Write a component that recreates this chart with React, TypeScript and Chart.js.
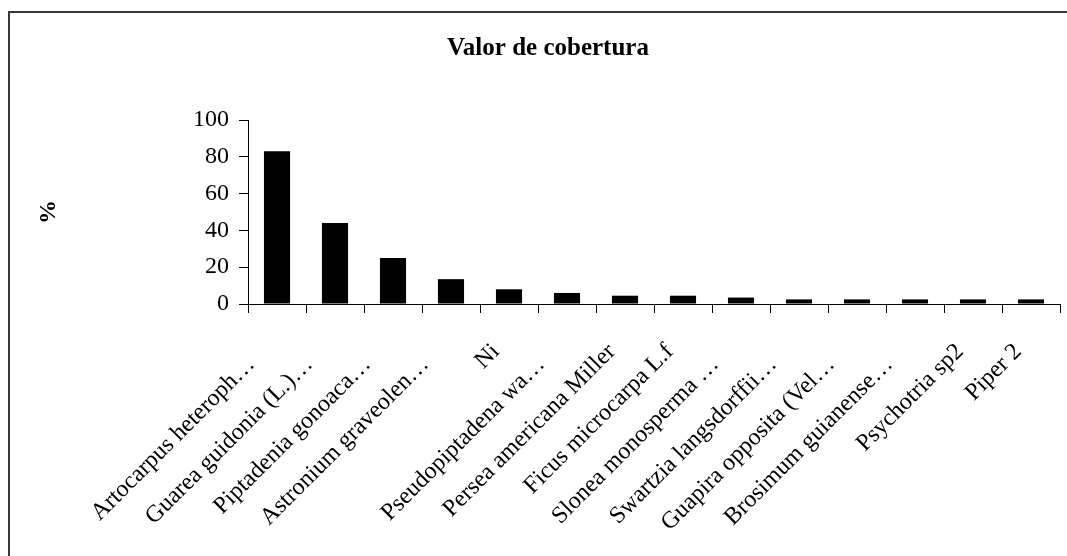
import React, { useEffect, useRef } from "react";
import { Chart, registerables } from "chart.js";

Chart.register(...registerables);

const categories = [
  "Artocarpus heteroph…",
  "Guarea guidonia (L.)…",
  "Piptadenia gonoaca…",
  "Astronium graveolen…",
  "Ni",
  "Pseudopiptadena wa…",
  "Persea americana Miller",
  "Ficus microcarpa L.f",
  "Slonea monosperma …",
  "Swartzia langsdorffii…",
  "Guapira opposita (Vel…",
  "Brosimum guianense…",
  "Psychotria sp2",
  "Piper 2",
];

const coverValues = [83, 44, 25, 13.5, 8, 6, 4.5, 4.5, 3.5, 2.5, 2.5, 2.5, 2.5, 2.5];

const yTicks = [0, 20, 40, 60, 80, 100];

const chartTitle = "Valor de cobertura";
const yTitle = "%";

const FONT = "'Liberation Serif', 'Times New Roman', serif";

export default function App() {
  const ref = useRef<HTMLCanvasElement | null>(null);

  useEffect(() => {
    if (!ref.current) return;
    const chart = new Chart(ref.current, {
      type: "bar",
      data: {
        labels: categories,
        datasets: [
          {
            data: coverValues,
            backgroundColor: "#000000",
            borderWidth: 0,
            barPercentage: 1,
            categoryPercentage: 0.45,
          },
        ],
      },
      options: {
        animation: false,
        responsive: false,
        maintainAspectRatio: false,
        layout: { padding: { left: 0, right: 0, top: 0, bottom: 0 } },
        plugins: {
          legend: { display: false },
          tooltip: { enabled: false },
          title: {
            display: true,
            text: chartTitle,
            color: "#000",
            font: { family: FONT, size: 25, weight: "bold" },
            padding: { top: 21, bottom: 56 },
          },
        },
        scales: {
          x: {
            grid: {
              display: true,
              drawOnChartArea: false,
              drawTicks: true,
              tickLength: 9,
              color: "#000",
              offset: true,
            },
            border: { display: true, color: "#000", width: 1 },
            ticks: {
              color: "#000",
              font: { family: FONT, size: 24 },
              minRotation: 45,
              maxRotation: 45,
              autoSkip: false,
              padding: 25,
              labelOffset: -13,
              callback: function (this: any, _v: any, i: number) {
                const s = categories[i];
                // truncated labels sit a little short of the tick, as in the original
                return s.endsWith("…") ? s + "   " : s;
              },
            },
            afterFit: (scale: any) => {
              scale.height = 269;
            },
          },
          y: {
            min: 0,
            max: 100,
            afterBuildTicks: (scale: any) => {
              scale.ticks = yTicks.map((v) => ({ value: v }));
            },
            grid: {
              display: true,
              drawOnChartArea: false,
              drawTicks: true,
              tickLength: 9,
              color: "#000",
            },
            border: { display: true, color: "#000", width: 1 },
            ticks: {
              color: "#000",
              font: { family: FONT, size: 24 },
              padding: 10,
            },
            title: {
              display: true,
              text: yTitle,
              color: "#000",
              font: { family: FONT, size: 24, weight: "bold" },
              padding: { top: 24, bottom: 0 },
            },
            afterFit: (scale: any) => {
              scale.width = 238;
            },
          },
          spacer: {
            type: "linear",
            position: "right",
            display: true,
            grid: { display: false, drawTicks: false },
            border: { display: false },
            ticks: { display: false },
            afterFit: (scale: any) => {
              scale.width = 26;
            },
          },
        },
      },
    });
    return () => chart.destroy();
  }, []);

  return (
    <div
      style={{
        position: "fixed",
        left: 0,
        top: 0,
        width: 1067,
        height: 556,
        overflow: "hidden",
        background: "#fff",
      }}
    >
      <div
        style={{
          position: "absolute",
          left: 8,
          top: 11,
          width: 1078,
          height: 600,
          borderTop: "2px solid #3a3a3a",
          borderLeft: "2px solid #3a3a3a",
          boxSizing: "border-box",
        }}
      >
        <canvas ref={ref} width={1076} height={560} style={{ display: "block" }} />
      </div>
    </div>
  );
}
